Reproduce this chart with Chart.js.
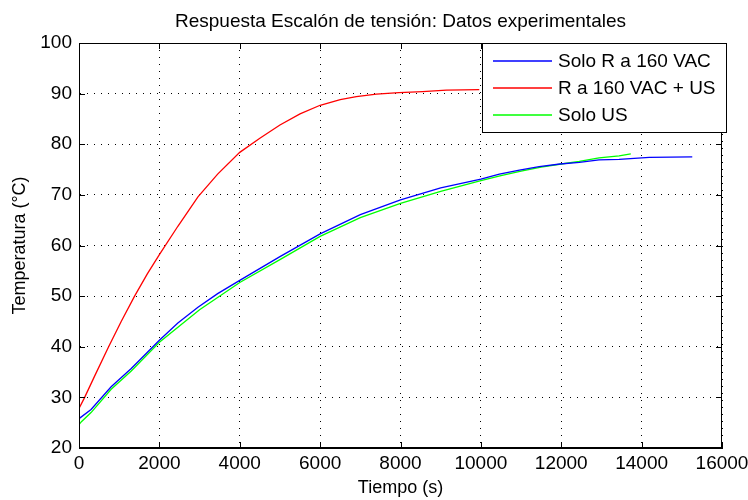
<!DOCTYPE html>
<html>
<head>
<meta charset="utf-8">
<title>Respuesta Escalón de tensión</title>
<script src="https://cdn.jsdelivr.net/npm/chart.js@4.4.1/dist/chart.umd.min.js"></script>
<style>
  html, body { margin: 0; padding: 0; background: #fff; }
  #caja { width: 748px; height: 500px; }
</style>
</head>
<body>
<div id="caja"><canvas id="grafico"></canvas></div>
<script>
// tiempos (s) y temperaturas (°C) de cada ensayo
const tiempoSoloR = [0, 300, 800, 1300, 2000, 2460, 2960, 3450, 4000, 5000, 6000, 7000, 8000, 9000, 10000, 10460, 10960, 11450, 11970, 12450, 12940, 13440, 14190, 15260];
const tempSoloR   = [25.8, 27.6, 32.1, 35.7, 41.3, 44.7, 47.8, 50.5, 53.1, 57.8, 62.3, 66.1, 69.0, 71.4, 73.1, 74.1, 74.9, 75.6, 76.1, 76.4, 76.9, 77.0, 77.4, 77.5];

const tiempoRUS = [0, 141, 400, 737, 1050, 1383, 1700, 2000, 2460, 2960, 3450, 4000, 4500, 5000, 5500, 6000, 6500, 6900, 7400, 7960, 8550, 9140, 9960];
const tempRUS   = [27.8, 30.0, 34.4, 40.0, 45.0, 50.0, 54.4, 58.2, 63.8, 69.6, 74.1, 78.4, 81.2, 83.8, 86.0, 87.7, 88.8, 89.4, 89.9, 90.2, 90.4, 90.7, 90.8];

const tiempoSoloUS = [0, 60, 300, 800, 1300, 2000, 3000, 4000, 5000, 6000, 7000, 8000, 9000, 10000, 10500, 11000, 11500, 12000, 12450, 12940, 13440, 13730];
const tempSoloUS   = [24.6, 25.2, 27.0, 31.6, 35.2, 40.9, 47.3, 52.7, 57.2, 61.8, 65.5, 68.3, 70.7, 72.8, 73.8, 74.7, 75.5, 76.1, 76.6, 77.3, 77.7, 78.1];

const ticksTiempo = [0, 2000, 4000, 6000, 8000, 10000, 12000, 14000, 16000];
const ticksTemp   = [20, 30, 40, 50, 60, 70, 80, 90, 100];

const fuente = "'Liberation Sans', Arial, sans-serif";

const puntos = (xs, ys) => xs.map((t, i) => ({ x: t, y: ys[i] }));

// marco completo y marcas de división hacia dentro
const marco = {
    id: 'marco',
    afterDatasetsDraw(chart) {
        const { ctx, chartArea: a, scales: { x, y } } = chart;
        ctx.save();
        ctx.strokeStyle = '#000';
        ctx.lineWidth = 1;
        ctx.strokeRect(a.left + 0.5, a.top + 0.5, a.right - a.left - 1, a.bottom - a.top - 1);
        ctx.beginPath();
        x.ticks.forEach(t => {
            const px = Math.round(x.getPixelForValue(t.value)) + 0.5;
            ctx.moveTo(px, a.bottom); ctx.lineTo(px, a.bottom - 6);
            ctx.moveTo(px, a.top); ctx.lineTo(px, a.top + 6);
        });
        y.ticks.forEach(t => {
            const py = Math.round(y.getPixelForValue(t.value)) + 0.5;
            ctx.moveTo(a.left, py); ctx.lineTo(a.left + 6, py);
            ctx.moveTo(a.right, py); ctx.lineTo(a.right - 6, py);
        });
        ctx.stroke();
        ctx.restore();
    }
};

// leyenda en caja blanca, arriba a la derecha
const leyenda = {
    id: 'leyenda',
    afterDraw(chart) {
        const { ctx, chartArea: a } = chart;
        const x0 = 482, y0 = a.top, w = 245, h = 90;
        ctx.save();
        ctx.fillStyle = '#fff';
        ctx.fillRect(x0, y0, w, h);
        ctx.strokeStyle = '#000';
        ctx.lineWidth = 1;
        ctx.strokeRect(x0 + 0.5, y0 + 0.5, w - 1, h - 1);
        ctx.font = '19px ' + fuente;
        ctx.textBaseline = 'middle';
        ctx.fillStyle = '#000';
        chart.data.datasets.forEach((ds, i) => {
            const yy = y0 + 18 + i * 27;
            ctx.strokeStyle = ds.borderColor;
            ctx.lineWidth = 1.3;
            ctx.beginPath();
            ctx.moveTo(x0 + 11, yy); ctx.lineTo(x0 + 70, yy);
            ctx.stroke();
            ctx.fillText(ds.label, x0 + 76, yy + 1);
        });
        ctx.restore();
    }
};

new Chart(document.getElementById('grafico'), {
    type: 'line',
    data: {
        datasets: [
            { label: 'Solo R a 160 VAC', data: puntos(tiempoSoloR, tempSoloR), borderColor: '#0000ff' },
            { label: 'R a 160 VAC + US', data: puntos(tiempoRUS, tempRUS), borderColor: '#ff0000' },
            { label: 'Solo US', data: puntos(tiempoSoloUS, tempSoloUS), borderColor: '#00ff00' },
        ].map(ds => ({ ...ds, borderWidth: 1.3, pointRadius: 0, tension: 0, fill: false })),
    },
    options: {
        responsive: true,
        maintainAspectRatio: false,
        animation: false,
        layout: { padding: { right: 26 } },
        scales: {
            x: {
                type: 'linear',
                min: 0,
                max: 16000,
                afterFit: s => { s.height = 52; s.paddingLeft = 0; s.paddingRight = 0; },
                afterBuildTicks: s => { s.ticks = ticksTiempo.map(v => ({ value: v })); },
                ticks: {
                    color: '#000', font: { family: fuente, size: 19 }, padding: 4,
                    maxRotation: 0, autoSkip: false, callback: v => String(v),
                },
                grid: { color: '#000', lineWidth: 1, drawTicks: false },
                border: { display: true, color: '#000', dash: [1, 6] },
                title: { display: true, text: 'Tiempo (s)', color: '#000', font: { family: fuente, size: 18 }, padding: { top: 0, bottom: 1 } },
            },
            y: {
                min: 20,
                max: 100,
                afterFit: s => { s.width = 79; s.paddingTop = 0; s.paddingBottom = 0; },
                afterBuildTicks: s => { s.ticks = ticksTemp.map(v => ({ value: v })); },
                ticks: { color: '#000', font: { family: fuente, size: 19 }, padding: 7, callback: v => String(v) },
                grid: { color: '#000', lineWidth: 1, drawTicks: false },
                border: { display: true, color: '#000', dash: [1, 6] },
                title: { display: true, text: 'Temperatura (°C)', color: '#000', font: { family: fuente, size: 18 }, padding: { top: 9, bottom: 0 } },
            },
        },
        plugins: {
            legend: { display: false },
            tooltip: { enabled: false },
            title: {
                display: true,
                fullSize: false,
                text: 'Respuesta Escalón de tensión: Datos experimentales',
                color: '#000',
                font: { family: fuente, size: 19, weight: 'normal' },
                padding: { top: 10.6, bottom: 9.6 },
            },
        },
    },
    plugins: [marco, leyenda],
});
</script>
</body>
</html>
